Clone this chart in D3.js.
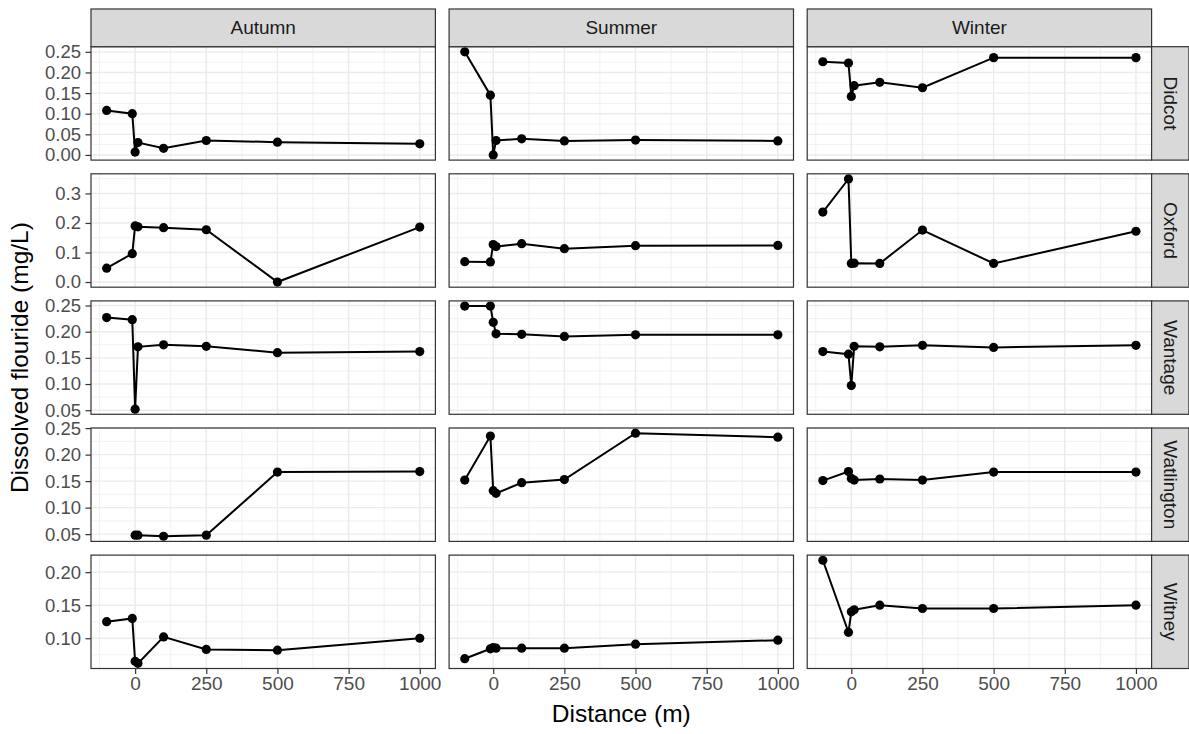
<!DOCTYPE html>
<html lang="en">
<head>
<meta charset="UTF-8">
<title>Dissolved flouride</title>
<script src="https://d3js.org/d3.v7.min.js"></script>
<style>
    body { margin: 0; background: #fff; }
    text { font-family: "Liberation Sans", Arial, sans-serif; }
</style>
</head>
<body>
<svg id="canvas" width="1189" height="734"></svg>
<script>
// data: one array per site, holding [Autumn, Summer, Winter] values at each distance
const seasons = ["Autumn", "Summer", "Winter"];
const sites = ["Didcot", "Oxford", "Wantage", "Watlington", "Witney"];
const distances = [-100, -10, 0, 10, 100, 250, 500, 1000];
const xTicks = [0, 250, 500, 750, 1000];

const didcot = [
    [0.108, 0.100, 0.007, 0.030, 0.016, 0.035, 0.031, 0.027],
    [0.250, 0.145, 0.000, 0.035, 0.039, 0.034, 0.036, 0.034],
    [0.226, 0.223, 0.142, 0.168, 0.176, 0.163, 0.236, 0.236]
];
const oxford = [
    [0.047, 0.096, 0.190, 0.187, 0.184, 0.177, 0.000, 0.186],
    [0.069, 0.068, 0.127, 0.120, 0.130, 0.113, 0.123, 0.124],
    [0.237, 0.349, 0.063, 0.064, 0.063, 0.176, 0.063, 0.172]
];
const wantage = [
    [0.227, 0.223, 0.052, 0.171, 0.175, 0.172, 0.160, 0.162],
    [0.249, 0.249, 0.218, 0.196, 0.195, 0.191, 0.194, 0.194],
    [0.162, 0.157, 0.097, 0.172, 0.171, 0.174, 0.170, 0.174]
];
const watlington = [
    [null, null, 0.048, 0.048, 0.046, 0.048, 0.167, 0.168],
    [0.152, 0.235, 0.132, 0.127, 0.147, 0.153, 0.2405, 0.233],
    [0.151, 0.168, 0.155, 0.152, 0.154, 0.152, 0.167, 0.167]
];
const witney = [
    [0.125, 0.130, 0.065, 0.062, 0.102, 0.083, 0.082, 0.100],
    [0.069, 0.084, 0.086, 0.085, 0.085, 0.085, 0.091, 0.097],
    [0.218, 0.109, 0.140, 0.143, 0.150, 0.145, 0.145, 0.150]
];
const siteValues = [didcot, oxford, wantage, watlington, witney];

// layout
const plotLeft = 91, plotTop = 46.7, panelW = 344.4, panelH = 113.4, gap = 13.7;
const stripH = 37.7, stripW = 37.3;

const svg = d3.select("#canvas");

function expand(ext) {
    let pad = (ext[1] - ext[0]) * 0.05;
    return [ext[0] - pad, ext[1] + pad];
}
function minorBreaks(major, step, domain) {
    let out = [];
    for (let i = -1; i < major.length; i++) {
        let m = (i < 0 ? major[0] - step : major[i]) + step / 2;
        if (m > domain[0] && m < domain[1]) out.push(m);
    }
    return out;
}

let xDomain = expand(d3.extent(distances));
let x = d3.scaleLinear().domain(xDomain).range([0, panelW]);
let xMinor = minorBreaks(xTicks, 250, xDomain);

sites.forEach(function (site, r) {
    let vals = siteValues[r];
    let all = vals.flat().filter(v => v !== null);
    let yDomain = expand(d3.extent(all));
    let y = d3.scaleLinear().domain(yDomain).range([panelH, 0]);
    let yTicks = y.ticks(5);
    let yStep = yTicks[1] - yTicks[0];
    let yMinor = minorBreaks(yTicks, yStep, yDomain);
    let fmt = y.tickFormat(5);
    let py = plotTop + r * (panelH + gap);

    seasons.forEach(function (season, c) {
        let px = plotLeft + c * (panelW + gap);
        let g = svg.append("g").attr("transform", `translate(${px},${py})`);

        // grid
        g.selectAll(".ymin").data(yMinor).enter().append("line")
            .attr("x1", 0).attr("x2", panelW)
            .attr("y1", d => y(d)).attr("y2", d => y(d))
            .attr("stroke", "#ebebeb").attr("stroke-width", 0.7);
        g.selectAll(".xmin").data(xMinor).enter().append("line")
            .attr("y1", 0).attr("y2", panelH)
            .attr("x1", d => x(d)).attr("x2", d => x(d))
            .attr("stroke", "#ebebeb").attr("stroke-width", 0.7);
        g.selectAll(".ymaj").data(yTicks).enter().append("line")
            .attr("x1", 0).attr("x2", panelW)
            .attr("y1", d => y(d)).attr("y2", d => y(d))
            .attr("stroke", "#ebebeb").attr("stroke-width", 1.4);
        g.selectAll(".xmaj").data(xTicks).enter().append("line")
            .attr("y1", 0).attr("y2", panelH)
            .attr("x1", d => x(d)).attr("x2", d => x(d))
            .attr("stroke", "#ebebeb").attr("stroke-width", 1.4);

        // data
        let pts = distances.map((d, i) => ({d: d, v: vals[c][i]})).filter(p => p.v !== null);
        let line = d3.line().x(p => x(p.d)).y(p => y(p.v));
        g.append("path").datum(pts)
            .attr("d", line)
            .attr("fill", "none")
            .attr("stroke", "#000")
            .attr("stroke-width", 2);
        g.selectAll("circle").data(pts).enter().append("circle")
            .attr("cx", p => x(p.d)).attr("cy", p => y(p.v))
            .attr("r", 4.6).attr("fill", "#000");

        // border
        g.append("rect").attr("width", panelW).attr("height", panelH)
            .attr("fill", "none").attr("stroke", "#333333").attr("stroke-width", 1.2);

        // y axis on first column
        if (c === 0) {
            let ya = g.append("g").call(d3.axisLeft(y).tickValues(yTicks).tickFormat(fmt).tickSize(5.5).tickPadding(4.5));
            ya.select(".domain").remove();
            ya.selectAll("line").attr("stroke", "#333333").attr("stroke-width", 1.2);
            ya.selectAll("text").attr("fill", "#4d4d4d").style("font-size", "18.5px");
        }
        // x axis on last row
        if (r === sites.length - 1) {
            let xa = g.append("g").attr("transform", `translate(0,${panelH})`)
                .call(d3.axisBottom(x).tickValues(xTicks).tickFormat(d3.format("d")).tickSize(5.5).tickPadding(3));
            xa.select(".domain").remove();
            xa.selectAll("line").attr("stroke", "#333333").attr("stroke-width", 1.2);
            xa.selectAll("text").attr("fill", "#4d4d4d").style("font-size", "19px");
        }
        // top strips
        if (r === 0) {
            svg.append("rect").attr("x", px).attr("y", plotTop - stripH)
                .attr("width", panelW).attr("height", stripH)
                .attr("fill", "#d9d9d9").attr("stroke", "#333333").attr("stroke-width", 1.2);
            svg.append("text").attr("x", px + panelW / 2).attr("y", plotTop - stripH / 2)
                .attr("text-anchor", "middle").attr("dominant-baseline", "central")
                .attr("fill", "#1a1a1a").style("font-size", "19px").text(season);
        }
    });

    // right strip
    let sx = plotLeft + 3 * panelW + 2 * gap;
    svg.append("rect").attr("x", sx).attr("y", py)
        .attr("width", stripW).attr("height", panelH)
        .attr("fill", "#d9d9d9").attr("stroke", "#333333").attr("stroke-width", 1.2);
    svg.append("text")
        .attr("transform", `translate(${sx + stripW / 2},${py + panelH / 2}) rotate(90)`)
        .attr("text-anchor", "middle").attr("dominant-baseline", "central")
        .attr("fill", "#1a1a1a").style("font-size", "19px").text(site);
});

// axis titles
let plotBottom = plotTop + 5 * panelH + 4 * gap;
svg.append("text")
    .attr("x", plotLeft + (3 * panelW + 2 * gap) / 2).attr("y", 722)
    .attr("text-anchor", "middle").attr("fill", "#000").style("font-size", "24.5px")
    .text("Distance (m)");
svg.append("text")
    .attr("transform", `translate(28,${(plotTop + plotBottom) / 2}) rotate(-90)`)
    .attr("text-anchor", "middle").attr("fill", "#000").style("font-size", "24.5px")
    .text("Dissolved flouride (mg/L)");
</script>
</body>
</html>
